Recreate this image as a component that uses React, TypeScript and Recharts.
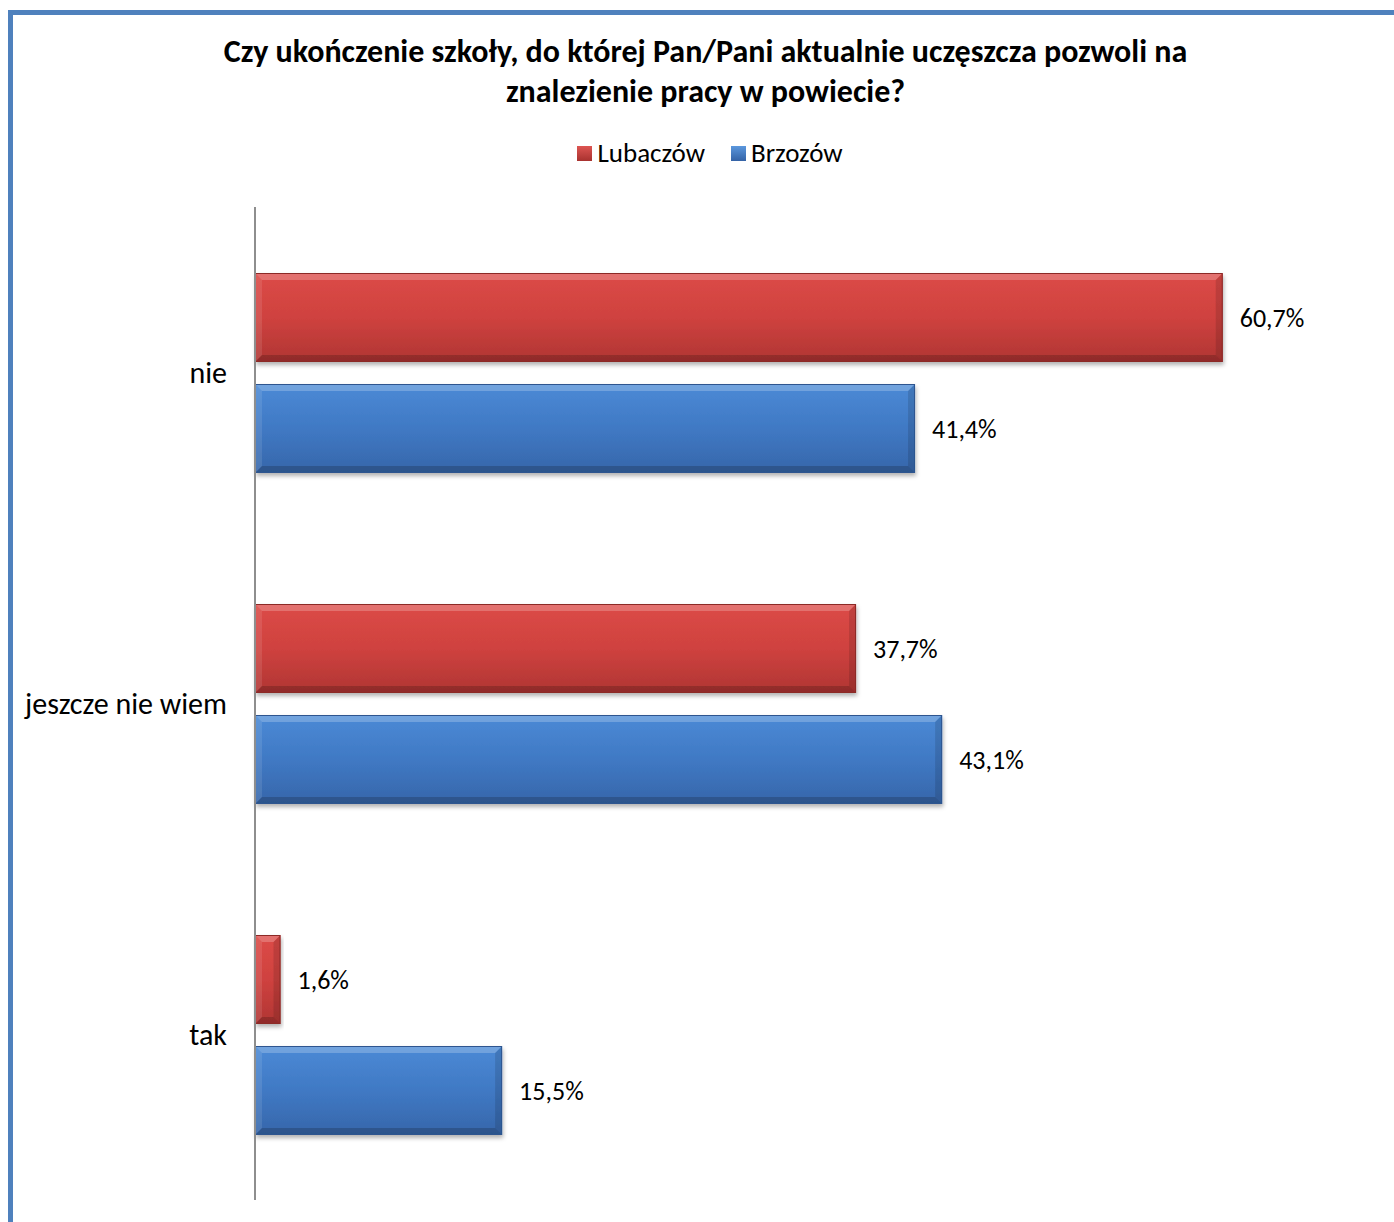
import React from "react";
import { BarChart, Bar, XAxis, YAxis, LabelList } from "recharts";

const categories = ["nie", "jeszcze nie wiem", "tak"];
const lubaczow = [60.7, 37.7, 1.6];
const brzozow = [41.4, 43.1, 15.5];

const data = categories.map((name, i) => ({ name, lubaczow: lubaczow[i], brzozow: brzozow[i] }));

const FONT = "Carlito, Calibri, 'Open Sans', sans-serif";

const fmt = (v: any) => `${Number(v).toFixed(1).replace(".", ",")}%`;

function BevelBar(props: any) {
  const { x, y, width, height, fill: id, stroke } = props;
  if (!width || width <= 0) return null;
  const b = Math.min(7, width / 2, height / 2);
  return (
    <g filter="url(#shadow)">
      <rect x={x} y={y} width={width} height={height} fill={`url(#${id})`} />
      <polygon points={`${x},${y} ${x + width},${y} ${x + width - b},${y + b} ${x + b},${y + b}`} fill="#ffffff" opacity={0.22} />
      <polygon points={`${x},${y} ${x + b},${y + b} ${x + b},${y + height - b} ${x},${y + height}`} fill="#ffffff" opacity={0.1} />
      <polygon points={`${x},${y + height} ${x + b},${y + height - b} ${x + width - b},${y + height - b} ${x + width},${y + height}`} fill="#000000" opacity={0.18} />
      <polygon points={`${x + width},${y} ${x + width},${y + height} ${x + width - b},${y + height - b} ${x + width - b},${y + b}`} fill="#000000" opacity={0.12} />
      <rect x={x + 0.5} y={y + 0.5} width={width - 1} height={height - 1} fill="none" stroke={stroke} strokeWidth={1} />
    </g>
  );
}

export default function App() {
  return (
    <div style={{ position: "absolute", left: 0, top: 0, width: 1394, height: 1222, background: "#fff", overflow: "hidden", fontFamily: FONT }}>
      <div style={{ position: "absolute", left: 8, top: 10, width: 1500, height: 1300, borderTop: "5px solid #4F81BD", borderLeft: "5px solid #4F81BD" }} />
      <div style={{ position: "absolute", left: 0, width: 1411, top: 32, textAlign: "center", fontWeight: 700, fontSize: 32, lineHeight: "40px", color: "#000" }}>
        Czy ukończenie szkoły, do której Pan/Pani aktualnie uczęszcza pozwoli na
        <br />
        znalezienie pracy w powiecie?
      </div>
      <div style={{ position: "absolute", left: 0, width: 1420, top: 136, display: "flex", justifyContent: "center", gap: 26, fontSize: 27, lineHeight: "34px", color: "#000" }}>
        <span style={{ display: "flex", alignItems: "center", gap: 5 }}>
          <span style={{ width: 15, height: 15, background: "linear-gradient(#DD5552, #A8322F)", display: "inline-block" }} />
          Lubaczów
        </span>
        <span style={{ display: "flex", alignItems: "center", gap: 5 }}>
          <span style={{ width: 15, height: 15, background: "linear-gradient(#5B97DD, #3463A6)", display: "inline-block" }} />
          Brzozów
        </span>
      </div>
      <div style={{ position: "absolute", left: 0, top: 0 }}>
        <BarChart
          width={1394}
          height={1222}
          data={data}
          layout="vertical"
          margin={{ top: 207, right: 23, bottom: 22, left: 0 }}
          barCategoryGap={65}
          barGap={22}
        >
          <defs>
            <linearGradient id="gRed" x1="0" y1="0" x2="0" y2="1">
              <stop offset="0" stopColor="#DC4A47" />
              <stop offset="0.5" stopColor="#CF423F" />
              <stop offset="1" stopColor="#B03533" />
            </linearGradient>
            <linearGradient id="gBlue" x1="0" y1="0" x2="0" y2="1">
              <stop offset="0" stopColor="#4B8AD6" />
              <stop offset="0.5" stopColor="#4079C4" />
              <stop offset="1" stopColor="#3666AA" />
            </linearGradient>
            <filter id="shadow" x="-5%" y="-10%" width="115%" height="130%">
              <feDropShadow dx="1" dy="3" stdDeviation="2" floodColor="#000" floodOpacity="0.3" />
            </filter>
          </defs>
          <XAxis type="number" domain={[0, 70]} hide />
          <YAxis
            type="category"
            dataKey="name"
            width={255}
            axisLine={{ stroke: "#8E8E8E", strokeWidth: 2 }}
            tickLine={false}
            tickMargin={22}
            tick={{ fontSize: 30, fill: "#000", fontFamily: FONT }}
          />
          <Bar dataKey="lubaczow" fill="gRed" stroke="#8C2A28" barSize={89} isAnimationActive={false} shape={BevelBar}>
            <LabelList dataKey="lubaczow" position="right" offset={17} formatter={fmt} style={{ fontSize: 26, fill: "#000", fontFamily: FONT }} />
          </Bar>
          <Bar dataKey="brzozow" fill="gBlue" stroke="#2D558F" barSize={89} isAnimationActive={false} shape={BevelBar}>
            <LabelList dataKey="brzozow" position="right" offset={17} formatter={fmt} style={{ fontSize: 26, fill: "#000", fontFamily: FONT }} />
          </Bar>
        </BarChart>
      </div>
    </div>
  );
}
